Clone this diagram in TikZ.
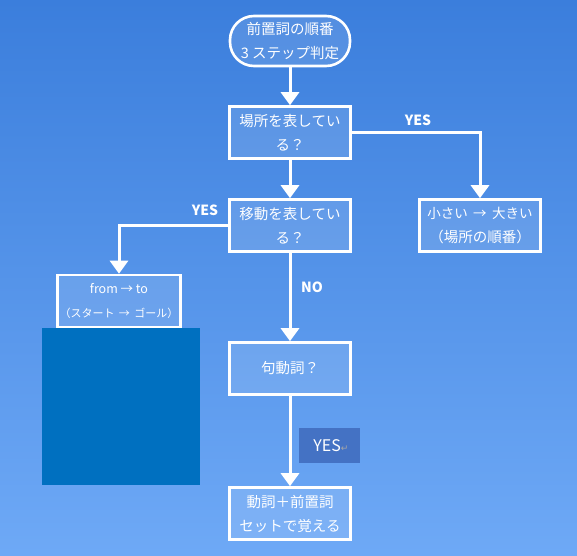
\documentclass[tikz,border=0pt]{standalone}
\usepackage{fontspec}
\setmainfont{Noto Sans CJK JP}
\newfontfamily\symfont{DejaVu Sans}
\usetikzlibrary{arrows.meta}
\definecolor{bgtop}{HTML}{3B7EDC}
\definecolor{bgbot}{HTML}{6EA9F6}
\definecolor{labelbox}{HTML}{4472C4}
\definecolor{hidebox}{HTML}{0070C0}
\tikzset{
  stepbox/.style={draw=white,line width=2.6pt,fill=white,fill opacity=0.12,text opacity=1,
    text=white,minimum width=121pt,minimum height=52pt,inner sep=2pt,align=center,
    font=\fontsize{14.5}{24}\selectfont},
  flow/.style={draw=white,line width=3pt,-{Triangle[width=18pt,length=13pt]}},
  answer/.style={text=white,font=\bfseries\fontsize{14}{16}\selectfont}
}
\begin{document}
\begin{tikzpicture}[x=1pt,y=-1pt]
  \useasboundingbox (0,0) rectangle (577,555);
  \shade [top color=bgtop,bottom color=bgbot] (0,0) rectangle (577,555);
  % boxes
  \node [stepbox,rounded corners=24pt,minimum width=120pt,minimum height=50pt] (start) at (290,41) {前置詞の順番\\3 ステップ判定};
  \node [stepbox] (place) at (290,132.5) {場所を表してい\\る？};
  \node [stepbox] (size) at (480,225.5) {\fontsize{13.5}{24}\selectfont 小さい \,→\, 大きい\\（場所の順番）};
  \node [stepbox] (move) at (290,225.5) {移動を表してい\\る？};
  \node [stepbox,minimum width=120pt,font=\fontsize{11}{24}\selectfont] (fromto) at (119,301) {{\fontsize{12.5}{24}\selectfont from → to}\\（スタート \,→\, ゴール）};
  \node [stepbox] (phrasal) at (290,368.5) {句動詞？};
  \node [stepbox] (set) at (290,513.5) {動詞＋前置詞\\セットで覚える};
  % connectors
  \draw [flow] (start) -- (place);
  \draw [flow] (place.east) -| (size.north);
  \draw [flow] (place) -- (move);
  \draw [flow] (move.west) -| (fromto.north);
  \draw [flow] (move) -- (phrasal);
  \draw [flow] (phrasal) -- (set);
  % labels
  \node [answer] (yesplace) at (418,120) {YES};
  \node [answer] (yesmove) at (205,210) {YES};
  \node [answer] (nomove) at (312,287) {NO};
  \node [fill=labelbox,minimum width=61pt,minimum height=35pt,text=white,
    font=\fontsize{16}{18}\selectfont] (yesphrasal) at (329.5,445.5) {\,YES{\symfont\color{gray!70}\fontsize{9}{10}\selectfont ↵}};
  \fill [hidebox] (42,328) rectangle (200,485);
\end{tikzpicture}
\end{document}
